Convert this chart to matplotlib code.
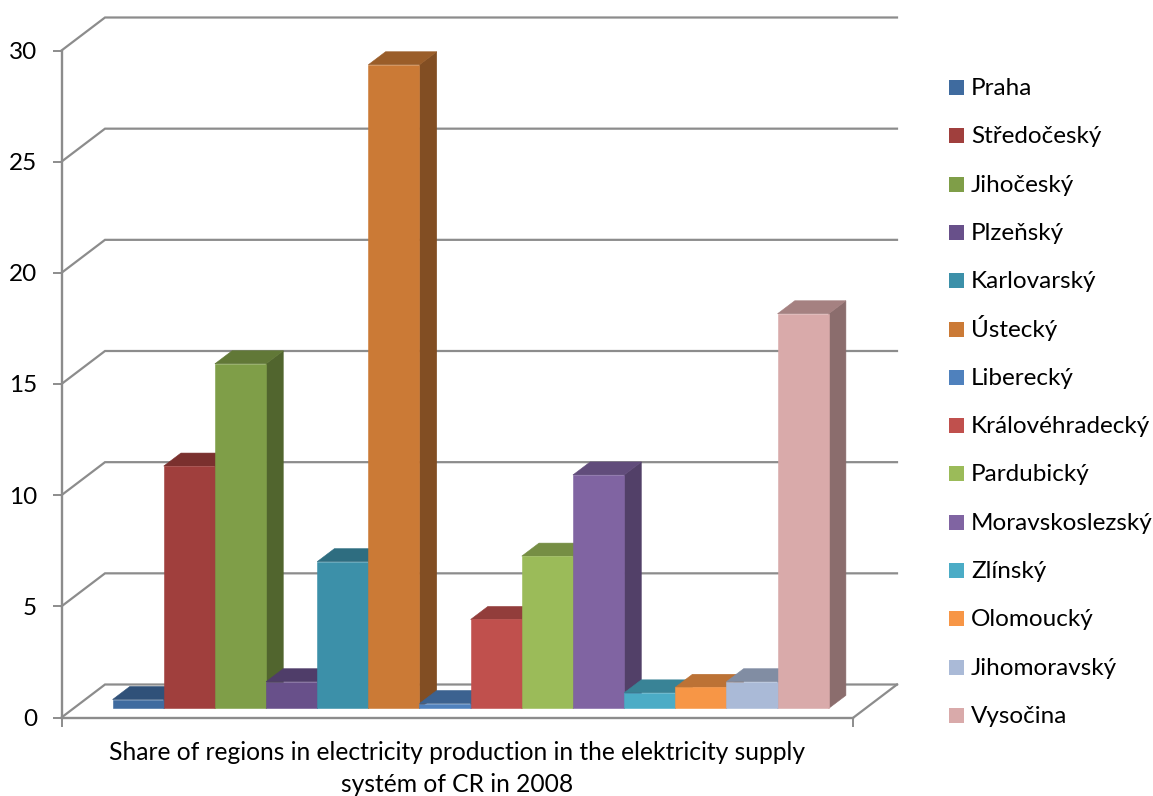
import matplotlib
matplotlib.use("Agg")
import matplotlib.pyplot as plt
from matplotlib.colors import to_rgb
from matplotlib.patches import Polygon, Rectangle

regions = ["Praha", "Středočeský", "Jihočeský", "Plzeňský", "Karlovarský", "Ústecký",
           "Liberecký", "Královéhradecký", "Pardubický", "Moravskoslezský", "Zlínský",
           "Olomoucký", "Jihomoravský", "Vysočina"]
shares = [0.4, 10.9, 15.5, 1.2, 6.6, 28.95, 0.22, 4.0, 6.85, 10.5, 0.7, 0.95, 1.2, 17.75]
colors = ["#3F6B9F", "#A03F3D", "#7F9E48", "#68508A", "#3C90A9", "#CB7A36", "#4F81BD",
          "#C0504D", "#9BBB59", "#8064A2", "#4BACC6", "#F79646", "#AABAD7", "#D9AAAA"]
y_ticks = [0, 5, 10, 15, 20, 25, 30]
caption_lines = ["Share of regions in electricity production in the elektricity supply",
                 "systém of CR in 2008"]

W, H = 1153, 796
GRID = "#8C8C8C"
FONT = "Lato"
FONT_SIZE = 17.5
CAPTION_SIZE = 17.7

# Front wall of the chart box, in pixels
LEFT, RIGHT, TOP, BOTTOM = 61.5, 853.5, 50.5, 717.5
PX_X = 51.15                        # one bar width
PX_Y = (BOTTOM - TOP) / 30          # one percentage point
BOX_DX, BOX_DY = 43.5 / PX_X, 33 / PX_Y     # oblique depth of the box
BAR_DX, BAR_DY = 17.2 / PX_X, 13 / PX_Y     # oblique depth of a bar
BAR_X0 = (112.6 - LEFT) / PX_X
BAR_Y0 = -(708.4 - BOTTOM) / PX_Y

fig = plt.figure(figsize=(W / 100, H / 100), dpi=100, facecolor="white")
ax = fig.add_axes([LEFT / W, 1 - BOTTOM / H, (RIGHT - LEFT) / W, (BOTTOM - TOP) / H])
x_max = (RIGHT - LEFT) / PX_X
ax.set_xlim(0, x_max)
ax.set_ylim(0, 30)
ax.patch.set_visible(False)
for name in ("top", "right"):
    ax.spines[name].set_visible(False)
for name in ("left", "bottom"):
    ax.spines[name].set_color(GRID)
    ax.spines[name].set_linewidth(1.7)

ax.set_yticks(y_ticks)
ax.set_xticks([0, x_max], ["", ""])
ax.tick_params(length=6.5, width=1.4, color=GRID, labelsize=FONT_SIZE, pad=11, labelcolor="black")
for label in ax.get_yticklabels():
    label.set_fontfamily(FONT)

# Receding gridlines on the side wall and back wall
for v in y_ticks:
    ax.plot([0, BOX_DX, x_max + BOX_DX], [v, v + BOX_DY, v + BOX_DY],
            color=GRID, lw=1.6, clip_on=False, zorder=1, solid_joinstyle="miter")
# Right edge of the floor
ax.plot([x_max, x_max + BOX_DX], [0, BOX_DY], color=GRID, lw=1.6, clip_on=False, zorder=1)


def shade(color, factor):
    return tuple(c * factor for c in to_rgb(color))


def draw_bar(i, value, color):
    """Draw one oblique bar: side face, top face, then front face."""
    x0, x1 = BAR_X0 + i, BAR_X0 + i + 1
    y0, y1 = BAR_Y0, BAR_Y0 + value
    faces = [
        ([(x1, y0), (x1 + BAR_DX, y0 + BAR_DY), (x1 + BAR_DX, y1 + BAR_DY), (x1, y1)], shade(color, 0.64)),
        ([(x0, y1), (x0 + BAR_DX, y1 + BAR_DY), (x1 + BAR_DX, y1 + BAR_DY), (x1, y1)], shade(color, 0.76)),
        ([(x0, y0), (x1, y0), (x1, y1), (x0, y1)], color),
    ]
    for pts, face in faces:
        ax.add_patch(Polygon(pts, closed=True, facecolor=face, edgecolor=face, lw=0.4,
                             clip_on=False, zorder=3 + i * 0.01))


for i, (value, color) in enumerate(zip(shares, colors)):
    draw_bar(i, value, color)

# Two-line caption under the axis
for line, baseline in zip(caption_lines, (760, 792)):
    fig.text(457 / W, 1 - baseline / H, line, ha="center", va="baseline", family=FONT,
             fontsize=CAPTION_SIZE, color="black")

# Evenly spaced legend column to the right of the box
LEGEND_TOP, LEGEND_STEP, SWATCH = 95.0, 48.3, 15.0
for i, (name, color) in enumerate(zip(regions, colors)):
    base = LEGEND_TOP + i * LEGEND_STEP
    fig.add_artist(Rectangle((949 / W, 1 - base / H), SWATCH / W, SWATCH / H, facecolor=color,
                             edgecolor="none", transform=fig.transFigure))
    fig.text(971 / W, 1 - base / H, name, ha="left", va="baseline", family=FONT,
             fontsize=FONT_SIZE, color="black")

fig.savefig("out.png", dpi=100, facecolor="white")
